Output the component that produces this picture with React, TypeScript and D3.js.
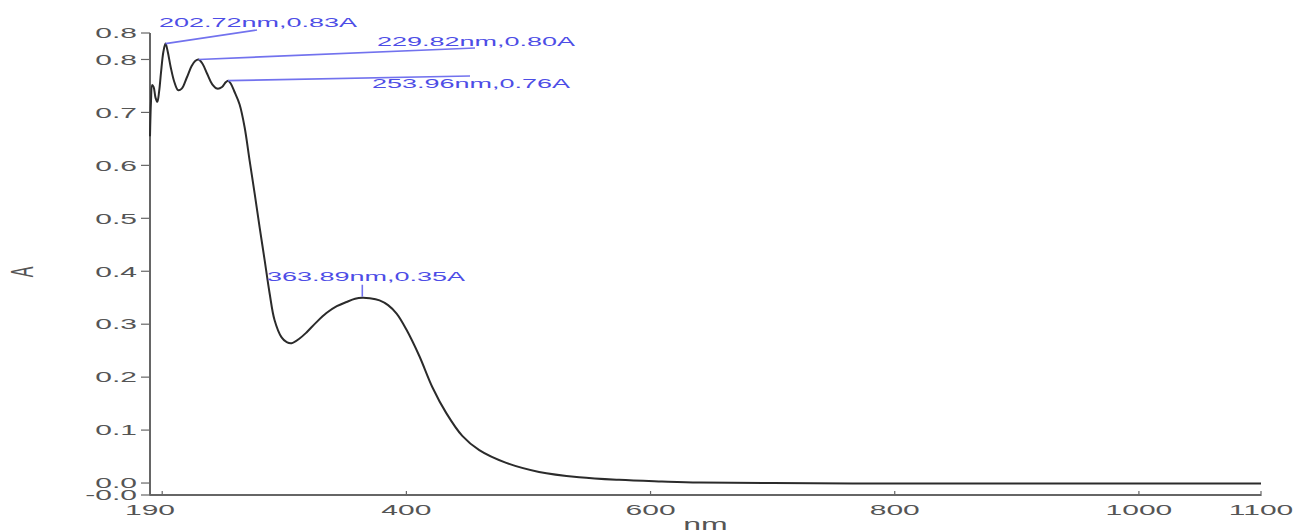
import React from "react";
import * as d3 from "d3";

// ---- data ----
const wavelengths = [
  190, 190.8, 191.8, 193, 194.5, 196, 197.5, 199, 201, 202.72, 204.5, 207, 210, 213, 216, 220, 224, 227,
  229.82, 233, 237, 241, 245, 249, 252, 253.96, 256, 259, 263.4, 267.5, 271.6, 275.7, 279.8, 283.9, 288,
  292, 297.8, 302, 306, 312, 318, 326, 334.5, 343, 351, 358, 363.89, 370, 378, 385, 392, 400, 410.6,
  421.3, 432.7, 445.8, 459.7, 481.8, 508.7, 541.5, 574.2, 609.3, 640, 700, 800, 900, 1000, 1100,
];
const absorbance = [
  0.655, 0.72, 0.752, 0.748, 0.728, 0.72, 0.74, 0.775, 0.815, 0.83, 0.815, 0.785, 0.757, 0.742, 0.745,
  0.765, 0.787, 0.797, 0.8, 0.792, 0.772, 0.753, 0.745, 0.748, 0.757, 0.76, 0.755, 0.74, 0.715, 0.672,
  0.609, 0.547, 0.483, 0.421, 0.358, 0.308, 0.275, 0.266, 0.264, 0.272, 0.284, 0.303, 0.321, 0.334,
  0.342, 0.348, 0.35, 0.349, 0.345, 0.336, 0.32, 0.29, 0.24, 0.181, 0.132, 0.089, 0.062, 0.038, 0.021,
  0.011, 0.006, 0.003, 0.001, 0.0, -0.001, -0.001, -0.001, -0.001,
];

const xTickValues = [190, 200, 400, 600, 800, 1000, 1100];
const xTickLabels = ["190", "", "400", "600", "800", "1000", "1100"];
const yTickValues = [-0.0226, 0, 0.1, 0.2, 0.3, 0.4, 0.5, 0.6, 0.7, 0.8, 0.85];
const yTickLabels = ["-0.0", "0.0", "0.1", "0.2", "0.3", "0.4", "0.5", "0.6", "0.7", "0.8", "0.8"];

const peakNm = [202.72, 229.82, 253.96, 363.89];
const peakA = [0.83, 0.8, 0.76, 0.35];
const peakLabels = ["202.72nm,0.83A", "229.82nm,0.80A", "253.96nm,0.76A", "363.89nm,0.35A"];

// ---- layout (positions, not data) ----
const W = 1295;
const H = 531;
const X0 = 150;
const X1 = 1261;
const Y_TOP = 33;
const Y_BOT = 495;
// label anchor for each peak: text left x, baseline y, leader end point
const annoLayout = [
  { tx: 159, ty: 27, ex: 257, ey: 30, kind: "line" },
  { tx: 377, ty: 46, ex: 475, ey: 48, kind: "line" },
  { tx: 372, ty: 87.5, ex: 470, ey: 76, kind: "line" },
  { tx: 267, ty: 280.5, ex: 0, ey: 0, kind: "tick" },
];

const FONT = "'Liberation Sans', Arial, sans-serif";
const STRETCH = 2;

export default function App() {
  const x = d3.scaleLinear().domain([190, 1100]).range([X0, X1]);
  const y = d3.scaleLinear().domain([-0.0226, 0.85]).range([Y_BOT, Y_TOP]);

  const pts: [number, number][] = wavelengths.map((w, i) => [w, absorbance[i]]);
  const line = d3
    .line<[number, number]>()
    .x((d) => x(d[0]))
    .y((d) => y(d[1]))
    .curve(d3.curveCatmullRom.alpha(0.5));

  const axisColor = "#666";
  const labelColor = "#555";
  const blueText = "#4d4de6";
  const blueLine = "#7272ee";

  return (
    <svg
      width={W}
      height={H}
      style={{ position: "absolute", left: 0, top: 0, display: "block", background: "#fff" }}
    >
      {/* axes */}
      <line x1={X0} x2={X0} y1={Y_TOP} y2={Y_BOT} stroke={axisColor} strokeWidth={2} />
      <line x1={X0} x2={X1} y1={Y_BOT} y2={Y_BOT} stroke={axisColor} strokeWidth={2} />

      {/* y ticks */}
      {yTickValues.map((v, i) => (
        <g key={"yt" + i}>
          <line x1={X0 - 9} x2={X0} y1={y(v)} y2={y(v)} stroke={axisColor} strokeWidth={1.2} />
          <text
            transform={`translate(${X0 - 13},${y(v) + 5.3}) scale(${STRETCH},1)`}
            textAnchor="end"
            fontFamily={FONT}
            fontSize={15}
            fill={labelColor}
          >
            {yTickLabels[i]}
          </text>
        </g>
      ))}

      {/* x ticks */}
      {xTickValues.map((v, i) => (
        <g key={"xt" + i}>
          <line x1={x(v)} x2={x(v)} y1={Y_BOT - 4} y2={Y_BOT + 1} stroke={axisColor} strokeWidth={1.2} />
          {xTickLabels[i] && (
            <text
              transform={`translate(${x(v)},${515}) scale(${STRETCH},1)`}
              textAnchor="middle"
              fontFamily={FONT}
              fontSize={15}
              fill={labelColor}
            >
              {xTickLabels[i]}
            </text>
          )}
        </g>
      ))}

      {/* axis titles */}
      <text
        transform={`translate(${(X0 + X1) / 2},${530}) scale(${STRETCH},1)`}
        textAnchor="middle"
        fontFamily={FONT}
        fontSize={16}
        fill={labelColor}
      >
        nm
      </text>
      <text
        transform={`translate(${33},${272}) scale(${STRETCH},1) rotate(-90)`}
        textAnchor="middle"
        fontFamily={FONT}
        fontSize={16}
        fill={labelColor}
      >
        A
      </text>

      {/* spectrum */}
      <path d={line(pts) || ""} fill="none" stroke="#2b2b2b" strokeWidth={2} strokeLinejoin="round" />

      {/* peak annotations */}
      {peakNm.map((nm, i) => {
        const L = annoLayout[i];
        const px = x(nm);
        const py = y(peakA[i]);
        return (
          <g key={"pk" + i}>
            {L.kind === "line" ? (
              <line x1={px} y1={py} x2={L.ex} y2={L.ey} stroke={blueLine} strokeWidth={1.6} />
            ) : (
              <line x1={px} y1={py - 1} x2={px} y2={py - 13} stroke={blueLine} strokeWidth={1.6} />
            )}
            <text
              transform={`translate(${L.tx},${L.ty}) scale(${STRETCH},1)`}
              fontFamily={FONT}
              fontSize={13.5}
              fill={blueText}
            >
              {peakLabels[i]}
            </text>
          </g>
        );
      })}
    </svg>
  );
}
